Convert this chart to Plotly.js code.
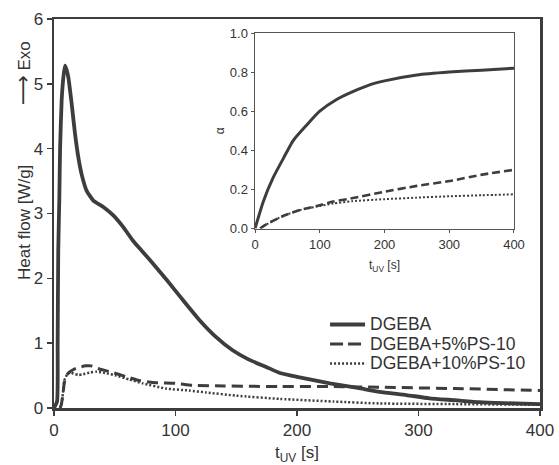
<!DOCTYPE html>
<html>
<head>
<meta charset="utf-8">
<script src="https://cdn.plot.ly/plotly-3.0.1.min.js"></script>
<style>
  html, body { margin: 0; padding: 0; background: #fff; }
  #chart { width: 559px; height: 465px; }
</style>
</head>
<body>
<div id="chart"></div>
<script>
// Heat flow during UV curing (main panel)
const tDGEBA = [0, 2.5, 3, 3.5, 4.4, 5, 6.3, 7.7, 9, 10.3, 11.8, 14.5, 17.3, 20, 22.8, 26.9, 32.4, 40.6, 48.8, 57, 65, 72, 80, 93, 105, 120, 133, 147, 160, 175, 186, 200, 227, 250, 268, 290, 309, 330, 350, 370, 400];
const hfDGEBA = [0, 0.1, 1.0, 2.43, 3.25, 4.0, 4.74, 5.1, 5.28, 5.22, 5.1, 4.7, 4.23, 3.87, 3.6, 3.35, 3.2, 3.1, 2.97, 2.79, 2.58, 2.43, 2.26, 1.97, 1.69, 1.35, 1.1, 0.89, 0.75, 0.63, 0.54, 0.48, 0.38, 0.31, 0.25, 0.2, 0.15, 0.12, 0.09, 0.075, 0.06];

const tPS5 = [5, 6, 7.3, 8.6, 11.4, 14, 18, 21, 26, 30.6, 36, 46, 60, 71, 84, 100, 114, 140, 186, 230, 268, 330, 400];
const hfPS5 = [0, 0.05, 0.2, 0.4, 0.53, 0.57, 0.61, 0.63, 0.65, 0.65, 0.61, 0.56, 0.48, 0.42, 0.39, 0.38, 0.35, 0.34, 0.33, 0.33, 0.32, 0.3, 0.27];

const tPS10 = [5, 6, 7.3, 8.6, 11.4, 14, 16, 20, 24, 30, 35, 42, 51, 62, 73, 92, 111, 125, 150, 186, 230, 268, 330, 400];
const hfPS10 = [0, 0.05, 0.22, 0.43, 0.53, 0.55, 0.53, 0.51, 0.52, 0.55, 0.56, 0.54, 0.5, 0.44, 0.38, 0.3, 0.27, 0.24, 0.19, 0.14, 0.1, 0.07, 0.06, 0.05];

// Degree of conversion (inset)
const tAlphaDGEBA = [0, 13, 28, 44, 59, 80, 100, 126, 151, 177, 200, 250, 300, 350, 400];
const alphaDGEBA = [0, 0.14, 0.26, 0.36, 0.45, 0.53, 0.6, 0.66, 0.70, 0.735, 0.755, 0.785, 0.80, 0.81, 0.82];

const tAlphaPS5 = [8, 18, 44, 70, 95, 121, 147, 198, 250, 301, 353, 400];
const alphaPS5 = [0, 0.022, 0.065, 0.095, 0.115, 0.138, 0.153, 0.187, 0.218, 0.243, 0.277, 0.30];

const tAlphaPS10 = [8, 18, 44, 70, 95, 121, 150, 200, 250, 300, 350, 400];
const alphaPS10 = [0, 0.022, 0.065, 0.095, 0.112, 0.128, 0.14, 0.15, 0.158, 0.165, 0.17, 0.175];

const seriesNames = ['DGEBA', 'DGEBA+5%PS-10', 'DGEBA+10%PS-10'];
const xTicks = [0, 100, 200, 300, 400];

const ink = '#3d3d3d';
const textInk = '#333';
const font = 'Liberation Sans, Arial, Helvetica, sans-serif';

// one line style per series, shared by the main panel, inset and key
const styles = [
  { width: 3.8, dash: 'solid' },
  { width: 3, dash: '11px,6px' },
  { width: 2.5, dash: '2px,2px' }
];
const insetStyles = [
  { width: 3, dash: 'solid' },
  { width: 2.6, dash: '8px,4px' },
  { width: 2, dash: '2px,2px' }
];

const mainSeries = [[tDGEBA, hfDGEBA], [tPS5, hfPS5], [tPS10, hfPS10]];
const insetSeries = [[tAlphaDGEBA, alphaDGEBA], [tAlphaPS5, alphaPS5], [tAlphaPS10, alphaPS10]];

const traces = [];
mainSeries.forEach(([x, y], i) => traces.push({
  x, y, name: seriesNames[i], mode: 'lines', showlegend: false,
  line: { color: ink, width: styles[i].width, dash: styles[i].dash, shape: 'spline', smoothing: 0.5 }
}));
insetSeries.forEach(([x, y], i) => traces.push({
  x, y, name: seriesNames[i], xaxis: 'x2', yaxis: 'y2', mode: 'lines', showlegend: false,
  line: { color: ink, width: insetStyles[i].width, dash: insetStyles[i].dash, shape: 'spline', smoothing: 0.6 }
}));

// key: short line samples with series names beside them (paper coordinates)
const keyX0 = 0.568, keyX1 = 0.640, keyText = 0.646;
const keyRows = [0.2147, 0.1645, 0.1144];
const keyShapes = keyRows.map((yy, i) => ({
  type: 'line', xref: 'paper', yref: 'paper',
  x0: keyX0, x1: keyX1, y0: yy, y1: yy,
  line: { color: ink, width: styles[i].width, dash: i === 1 ? '13px,5px' : styles[i].dash }
}));
const keyLabels = keyRows.map((yy, i) => ({
  text: seriesNames[i], xref: 'paper', yref: 'paper',
  x: keyText, y: yy, xanchor: 'left', yanchor: 'middle',
  showarrow: false, font: { size: 17.5, color: textInk }
}));

const layout = {
  width: 559, height: 465,
  margin: { l: 54, r: 19, t: 19, b: 57 },
  paper_bgcolor: '#fff', plot_bgcolor: '#fff',
  font: { family: font, color: textInk },
  showlegend: false,
  xaxis: {
    domain: [0, 1], range: [0, 400], tickvals: xTicks,
    showgrid: false, zeroline: false,
    showline: true, linecolor: ink, linewidth: 2.5, mirror: true,
    ticks: 'outside', ticklen: 5, tickcolor: ink, tickwidth: 1.5,
    tickfont: { size: 17, color: textInk },
    title: { text: 't<sub>UV</sub> [s]', font: { size: 17, color: textInk }, standoff: 8 }
  },
  yaxis: {
    domain: [0, 1], range: [0, 6], dtick: 1,
    showgrid: false, zeroline: false,
    showline: true, linecolor: ink, linewidth: 2.5, mirror: true,
    ticks: 'outside', ticklen: 5, tickcolor: ink, tickwidth: 1.5,
    tickfont: { size: 17, color: textInk }
  },
  xaxis2: {
    domain: [0.4136, 0.9465], range: [0, 400], tickvals: xTicks, anchor: 'y2',
    showgrid: false, zeroline: false,
    showline: true, linecolor: '#555', linewidth: 1.5, mirror: true,
    ticks: 'outside', ticklen: 3, tickcolor: '#555',
    tickfont: { size: 13, color: textInk },
    title: { text: 't<sub>UV</sub> [s]', font: { size: 12, color: textInk }, standoff: 10 }
  },
  yaxis2: {
    domain: [0.4614, 0.964], range: [0, 1], dtick: 0.2, tickformat: '.1f', anchor: 'x2',
    showgrid: false, zeroline: false,
    showline: true, linecolor: '#555', linewidth: 1.5, mirror: true,
    ticks: 'outside', ticklen: 3, tickcolor: '#555',
    tickfont: { size: 13, color: textInk },
    title: { text: 'α', font: { size: 12, color: textInk }, standoff: 2 }
  },
  shapes: keyShapes,
  annotations: [
    { text: 'Heat flow [W/g]', xref: 'paper', yref: 'paper',
      x: -0.062, y: 0.478, xanchor: 'center', yanchor: 'middle',
      textangle: -90, showarrow: false, font: { size: 17, color: textInk } },
    { text: '<span style="font-family:DejaVu Sans;font-size:21px">⟶</span> Exo', xref: 'paper', yref: 'paper',
      x: -0.062, y: 0.86, xanchor: 'center', yanchor: 'middle',
      textangle: -90, showarrow: false, font: { size: 17, color: textInk } }
  ].concat(keyLabels)
};

Plotly.newPlot('chart', traces, layout, { displayModeBar: false, staticPlot: true });
</script>
</body>
</html>
